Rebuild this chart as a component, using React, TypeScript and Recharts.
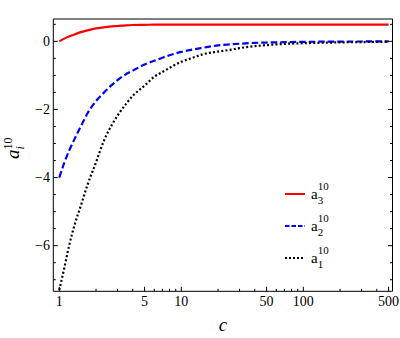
import React from 'react';
import { LineChart, Line, XAxis, YAxis, Legend } from 'recharts';

// sample points along c (log axis) and the three curves
const C_VALUES = [1, 1.1, 1.2, 1.35, 1.5, 1.7, 2, 2.3, 2.7, 3, 3.5, 4, 5, 6, 7, 8, 10, 12, 15, 20, 25, 30, 40, 50, 70, 100, 150, 200, 300, 500];
const A3_VALUES = [0, 0.08, 0.14, 0.21, 0.27, 0.32, 0.38, 0.41, 0.44, 0.45, 0.47, 0.48, 0.485, 0.49, 0.49, 0.49, 0.49, 0.49, 0.49, 0.49, 0.49, 0.49, 0.49, 0.49, 0.49, 0.49, 0.49, 0.49, 0.49, 0.49];
const A2_VALUES = [-4.0, -3.56, -3.22, -2.83, -2.5, -2.12, -1.75, -1.52, -1.28, -1.14, -0.97, -0.86, -0.68, -0.57, -0.48, -0.41, -0.31, -0.25, -0.19, -0.12, -0.09, -0.07, -0.045, -0.035, -0.025, -0.015, -0.01, -0.007, -0.004, -0.002];
const A1_VALUES = [-7.3, -6.65, -6.02, -5.33, -4.83, -4.22, -3.55, -2.95, -2.45, -2.18, -1.85, -1.6, -1.3, -1.04, -0.9, -0.78, -0.6, -0.5, -0.38, -0.3, -0.25, -0.2, -0.14, -0.11, -0.075, -0.055, -0.04, -0.03, -0.022, -0.015];

const X_MAJOR = [1, 5, 10, 50, 100, 500];
const X_MINOR = [2, 3, 4, 6, 7, 8, 9, 20, 30, 40, 60, 70, 80, 90, 200, 300, 400];
const Y_MAJOR = [0, -2, -4, -6];
const Y_MINOR = [0.5, -0.5, -1, -1.5, -2.5, -3, -3.5, -4.5, -5, -5.5, -6.5, -7];

const X_DOMAIN = [0.893, 538];
const Y_DOMAIN = [-7.34, 0.656];

const SERIES = [
  { key: 'a3', sub: '3', color: '#ff0000', dash: undefined, legendDash: undefined },
  { key: 'a2', sub: '2', color: '#0000ff', dash: '6.5 3', legendDash: '4.5 2' },
  { key: 'a1', sub: '1', color: '#000000', dash: '2 2.2', legendDash: '2 2' },
];

const data = C_VALUES.map((c, i) => ({ c, a1: A1_VALUES[i], a2: A2_VALUES[i], a3: A3_VALUES[i] }));

const FONT = '"Liberation Serif", "Times New Roman", serif';
const MAJOR_LEN = 4.5;
const MINOR_LEN = 2.5;
const xTicks = [...X_MAJOR, ...X_MINOR].sort((a, b) => a - b);
const yTicks = [...Y_MAJOR, ...Y_MINOR].sort((a, b) => a - b);

const minus = (v: number) => (v < 0 ? `\u2212${Math.abs(v)}` : `${v}`);

function BottomTick({ x, y, payload }: any) {
  const major = X_MAJOR.includes(payload.value);
  return (
    <g>
      <line x1={x} x2={x} y1={y} y2={y - (major ? MAJOR_LEN : MINOR_LEN)} stroke="#000" />
      {major && (
        <text x={x} y={y + 14.7} textAnchor="middle" fontFamily={FONT} fontSize={14} fill="#000">
          {payload.value}
        </text>
      )}
    </g>
  );
}

function TopTick({ x, y, payload }: any) {
  const major = X_MAJOR.includes(payload.value);
  return <line x1={x} x2={x} y1={y} y2={y + (major ? MAJOR_LEN : MINOR_LEN)} stroke="#000" />;
}

function LeftTick({ x, y, payload }: any) {
  const major = Y_MAJOR.includes(payload.value);
  return (
    <g>
      <line x1={x} x2={x + (major ? MAJOR_LEN : MINOR_LEN)} y1={y} y2={y} stroke="#000" />
      {major && (
        <text x={x - 3.3} y={y + 4.6} textAnchor="end" fontFamily={FONT} fontSize={14} fill="#000">
          {minus(payload.value)}
        </text>
      )}
    </g>
  );
}

function RightTick({ x, y, payload }: any) {
  const major = Y_MAJOR.includes(payload.value);
  return <line x1={x} x2={x - (major ? MAJOR_LEN : MINOR_LEN)} y1={y} y2={y} stroke="#000" />;
}

function renderLegend() {
  return (
    <svg width={70} height={100} style={{ display: 'block' }}>
      {SERIES.map((s, i) => {
        const cy = 16 + i * 32;
        return (
          <g key={s.key}>
            <line x1={5} x2={25} y1={cy} y2={cy} stroke={s.color} strokeWidth={2} strokeDasharray={s.legendDash} />
            <text x={31} y={cy + 5} fontFamily={FONT} fontSize={15} fill="#000">
              a
              <tspan fontSize={11} dy={-9.3}>10</tspan>
              <tspan fontSize={11} dx={-11} dy={14}>{s.sub}</tspan>
            </text>
          </g>
        );
      })}
    </svg>
  );
}

export default function App() {
  return (
    <div style={{ position: 'absolute', left: 0, top: 0, background: '#fff' }}>
      <LineChart width={400} height={338} data={data} margin={{ top: 9, right: 2.5, bottom: 16.7, left: 0 }}>
        <XAxis
          dataKey="c"
          type="number"
          scale="log"
          domain={X_DOMAIN}
          allowDataOverflow
          ticks={xTicks}
          interval={0}
          tickSize={0}
          tickMargin={0}
          tickLine={false}
          tick={<BottomTick />}
          height={30}
          axisLine={{ stroke: '#000' }}
        />
        <XAxis
          xAxisId="top"
          orientation="top"
          type="number"
          scale="log"
          domain={X_DOMAIN}
          allowDataOverflow
          ticks={xTicks}
          interval={0}
          tickSize={0}
          tickMargin={0}
          tickLine={false}
          tick={<TopTick />}
          height={10}
          axisLine={{ stroke: '#000' }}
        />
        <YAxis
          type="number"
          domain={Y_DOMAIN}
          allowDataOverflow
          ticks={yTicks}
          interval={0}
          tickSize={0}
          tickMargin={0}
          tickLine={false}
          tick={<LeftTick />}
          width={53.3}
          axisLine={{ stroke: '#000' }}
        />
        <YAxis
          yAxisId="right"
          orientation="right"
          type="number"
          domain={Y_DOMAIN}
          allowDataOverflow
          ticks={yTicks}
          interval={0}
          tickSize={0}
          tickMargin={0}
          tickLine={false}
          tick={<RightTick />}
          width={5}
          axisLine={{ stroke: '#000' }}
        />
        {SERIES.map((s) => (
          <Line
            key={s.key}
            dataKey={s.key}
            name={s.key}
            type="monotone"
            stroke={s.color}
            strokeWidth={2.2}
            strokeDasharray={s.dash}
            dot={false}
            activeDot={false}
            isAnimationActive={false}
          />
        ))}
        <Legend
          layout="vertical"
          align="center"
          verticalAlign="middle"
          content={renderLegend}
          wrapperStyle={{ left: 280, top: 178, width: 70 }}
        />
        <text x={222.9} y={331} textAnchor="middle" fontFamily={FONT} fontSize={19} fontStyle="italic" fill="#000">
          c
        </text>
        <text
          x={19}
          y={159}
          transform="rotate(-90, 19, 159)"
          fontFamily={FONT}
          fontSize={19}
          fill="#000"
        >
          <tspan fontStyle="italic">a</tspan>
          <tspan fontSize={12} dy={-7}>10</tspan>
          <tspan fontSize={12} fontStyle="italic" dx={-12} dy={12}>i</tspan>
        </text>
      </LineChart>
    </div>
  );
}
